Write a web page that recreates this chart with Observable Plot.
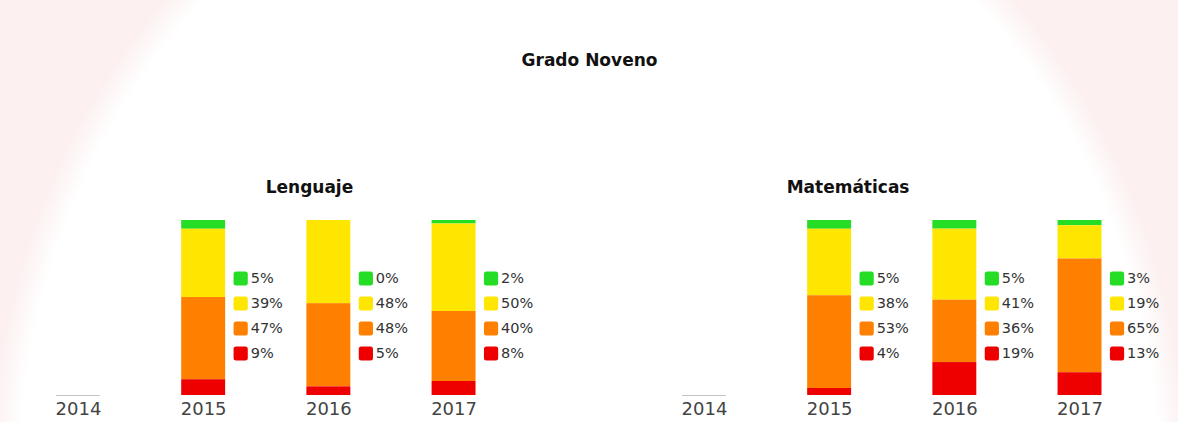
<!DOCTYPE html>
<html>
<head>
<meta charset="utf-8">
<script src="https://cdn.jsdelivr.net/npm/d3@7"></script>
<script src="https://cdn.jsdelivr.net/npm/@observablehq/plot@0.6"></script>
<style>
  html, body { margin: 0; padding: 0; background: #fff; }
  #chart {
    width: 1178px; height: 422px;
    background: radial-gradient(600px 690px at 589px 485px, #ffffff 95%, #fcf0f0 100%);
  }
</style>
</head>
<body>
<div id="chart"></div>
<script>
// ---- data ----
const mainTitle = "Grado Noveno";
const subjects = ["Lenguaje", "Matemáticas"];
const years = [2014, 2015, 2016, 2017];
const levels = ["Avanzado", "Satisfactorio", "Mínimo", "Insuficiente"]; // top → bottom
const levelColors = ["#25dd25", "#ffe600", "#ff8000", "#ee0000"];
// values per year: [Avanzado, Satisfactorio, Mínimo, Insuficiente]
const lenguaje = { 2015: [5, 39, 47, 9], 2016: [0, 48, 48, 5], 2017: [2, 50, 40, 8] };
const matematicas = { 2015: [5, 38, 53, 4], 2016: [5, 41, 36, 19], 2017: [3, 19, 65, 13] };

const bySubject = { "Lenguaje": lenguaje, "Matemáticas": matematicas };
const keyOf = (s, y) => s + "|" + y;

const rows = [];
const emptyKeys = [];
for (const s of subjects) {
  for (const y of years) {
    const vals = bySubject[s][y];
    if (!vals) { emptyKeys.push(keyOf(s, y)); continue; }
    levels.forEach((lv, i) => rows.push({ key: keyOf(s, y), subject: s, year: y, level: lv, value: vals[i] }));
  }
}
const domain = [...years.map(y => keyOf(subjects[0], y)), "gap", ...years.map(y => keyOf(subjects[1], y))];

const labelMarks = levels.flatMap((lv, i) => {
  const sub = rows.filter(d => d.level === lv);
  return [
    Plot.dot(sub, { x: "key", frameAnchor: "top", dx: 37, dy: 58 + 25 * i, symbol: "square", r: 5.2,
      fill: "level", stroke: "level", strokeWidth: 5, strokeLinejoin: "round" }),
    Plot.text(sub, { x: "key", frameAnchor: "top", lineAnchor: "middle", dx: 47, dy: 58 + 25 * i, text: d => d.value + "%",
      textAnchor: "start", fontSize: 14.5, fill: "#333", fontFamily: "DejaVu Sans" })
  ];
});

const chart = Plot.plot({
  width: 1178,
  height: 422,
  marginTop: 220,
  marginBottom: 27,
  marginLeft: 0,
  marginRight: 0,
  style: { fontFamily: "DejaVu Sans", fontSize: "18px", color: "#444", background: "transparent", overflow: "visible" },
  x: {
    domain,
    range: [56, 1101.5],
    paddingInner: 0.649,
    paddingOuter: 0,
    round: false,
    tickSize: 0,
    tickPadding: 7,
    tickFormat: k => k.includes("|") ? k.split("|")[1] : "",
    label: null
  },
  y: { domain: [0, 1], axis: null },
  color: { domain: levels, range: levelColors },
  marks: [
    Plot.barY(rows, Plot.stackY({
      x: "key", y: "value", fill: "level",
      order: [...levels].reverse(), offset: "normalize"
    })),
    Plot.tickY(emptyKeys, { x: d => d, y: 0, stroke: "#c4c4c4", strokeWidth: 1 }),
    ...labelMarks,
    Plot.text([mainTitle], { frameAnchor: "top", lineAnchor: "middle", dy: -160, fontWeight: "bold", fontSize: 17, fill: "#111" }),
    Plot.text([{ key: keyOf(subjects[0], 2015), t: subjects[0] }], { x: "key", text: "t", frameAnchor: "top", lineAnchor: "middle",
      dx: 62, dy: -33, textAnchor: "start", fontWeight: "bold", fontSize: 17, fill: "#111" }),
    Plot.text([{ key: keyOf(subjects[1], 2015), t: subjects[1] }], { x: "key", text: "t", frameAnchor: "top", lineAnchor: "middle",
      dx: -43, dy: -33, textAnchor: "start", fontWeight: "bold", fontSize: 17, fill: "#111" })
  ]
});
document.getElementById("chart").appendChild(chart);
</script>
</body>
</html>
